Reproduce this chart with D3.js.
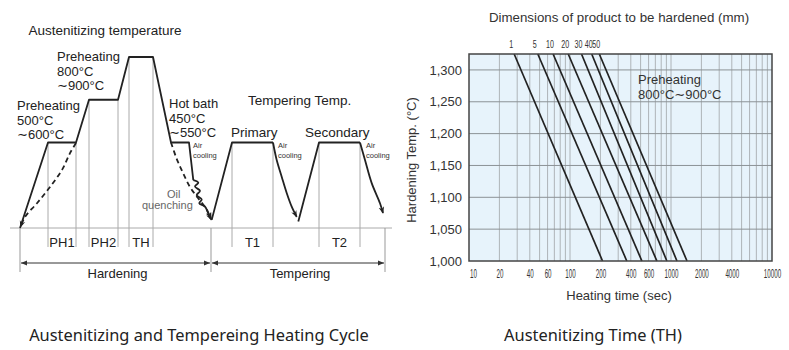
<!DOCTYPE html>
<html>
<head>
<meta charset="utf-8">
<script src="https://cdn.jsdelivr.net/npm/d3@7"></script>
<style>
  body { margin: 0; background: #fff; }
  svg { display: block; font-family: "Liberation Sans", Arial, Helvetica, sans-serif; }
  .wave { font-family: "DejaVu Sans", sans-serif; }
  .caption { font-family: "Noto Sans", sans-serif; }
</style>
</head>
<body>
<svg id="chart" width="789" height="350"></svg>
<script>
// ---------- Heating cycle schematic (left) ----------
// t: schematic time units, level: 0 = room temp, 2 = preheat 1 / hot bath / tempering,
// 3 = preheat 2, 4 = austenitizing
const hardeningPath = [[0, 0], [5.6, 2], [11.2, 2], [13.8, 3], [19.6, 3], [21.8, 4], [26.6, 4], [30.2, 2], [33.8, 2], [34.66, 1.12]];
const airCoolWiggle = [[34.66, 1.12], [35.66, 1.06], [35.0, 0.97], [36.0, 0.87], [35.34, 0.77], [36.34, 0.67], [35.86, 0.58], [37.0, 0.50], [37.66, 0.34], [38.3, 0.19]];
const oilQuench = [[30.2, 2], [31.4, 1.6], [32.6, 1.29], [34.0, 0.96], [35.6, 0.70], [37.4, 0.42], [38.1, 0.22]];
const directHeat = [[11.2, 1.99], [10.0, 1.75], [8.4, 1.36], [6.0, 0.96], [3.4, 0.58], [1.0, 0.26], [0.1, 0.02]];
const temperRise1 = [[38.34, 0.19], [42.4, 2], [50.6, 2]];
const temperCool1 = [[50.6, 2], [51.34, 1.59], [52.34, 1.2], [53.34, 0.82], [54.34, 0.5], [55.34, 0.26]];
const temperRise2 = [[55.66, 0.15], [59.8, 2], [68.0, 2]];
const temperCool2 = [[68.0, 2], [69.0, 1.59], [70.34, 1.05], [72.0, 0.58], [72.6, 0.35]];
const stageNames = ["PH1", "PH2", "TH", "T1", "T2"];
const stageStart = [5.6, 13.8, 21.8, 42.4, 59.8];
const stageEnd = [11.2, 19.6, 26.6, 50.6, 68.0];
const stageLevel = [2, 3, 4, 2, 2];
const phaseNames = ["Hardening", "Tempering"];
const phaseStart = [0, 38.2];
const phaseEnd = [38.2, 73];

// ---------- Austenitizing time chart (right) ----------
const dims = [1, 5, 10, 20, 30, 40, 50];                  // product size, mm
const timeAtTop = [28, 48, 68, 96, 130, 164, 195];        // sec at 1,325 °C
const timeAt1000 = [210, 365, 515, 725, 910, 1145, 1440]; // sec at 1,000 °C
const tempTop = 1325;
const tempTicks = [1000, 1050, 1100, 1150, 1200, 1250, 1300];
const timeTicks = [10, 20, 40, 60, 100, 200, 400, 600, 1000, 2000, 4000, 10000];

const svg = d3.select("#chart");
const defs = svg.append("defs");
defs.append("marker").attr("id", "arrow")
  .attr("viewBox", "0 0 10 10").attr("refX", 9).attr("refY", 5)
  .attr("markerWidth", 7).attr("markerHeight", 7).attr("markerUnits", "userSpaceOnUse")
  .attr("orient", "auto")
  .append("path").attr("d", "M0,1 L10,5 L0,9 L3,5 z").attr("fill", "#222");
defs.append("marker").attr("id", "dimArrow")
  .attr("viewBox", "0 0 10 10").attr("refX", 10).attr("refY", 5)
  .attr("markerWidth", 8).attr("markerHeight", 6).attr("markerUnits", "userSpaceOnUse")
  .attr("orient", "auto-start-reverse")
  .append("path").attr("d", "M0,1 L10,5 L0,9 z").attr("fill", "#333");

// ----- left schematic -----
const sx = d3.scaleLinear().domain([0, 73]).range([20, 385]);
const sy = d3.scaleLinear().domain([0, 4]).range([228, 57]);
const L = svg.append("g");
const lineLin = d3.line().x(d => sx(d[0])).y(d => sy(d[1]));
const lineCurve = d3.line().x(d => sx(d[0])).y(d => sy(d[1])).curve(d3.curveCatmullRom);
const guideBottom = 247, dimY = 263, dimBottom = 272;

// baseline
L.append("line").attr("x1", sx(-2)).attr("x2", sx(74.4)).attr("y1", sy(0)).attr("y2", sy(0))
  .attr("stroke", "#aaa").attr("stroke-width", 1);

// stage guide lines and labels
stageNames.forEach((name, i) => {
  [stageStart[i], stageEnd[i]].forEach(t => {
    L.append("line").attr("x1", sx(t)).attr("x2", sx(t))
      .attr("y1", sy(stageLevel[i])).attr("y2", guideBottom)
      .attr("stroke", "#aaa").attr("stroke-width", 1);
  });
  L.append("text").attr("x", (sx(stageStart[i]) + sx(stageEnd[i])) / 2).attr("y", 247)
    .attr("text-anchor", "middle").attr("font-size", 13).attr("fill", "#222").text(name);
});

// phase dimension lines
[0, 38.2, 73].forEach(t => {
  L.append("line").attr("x1", sx(t)).attr("x2", sx(t)).attr("y1", sy(0)).attr("y2", dimBottom)
    .attr("stroke", "#999").attr("stroke-width", 1);
});
phaseNames.forEach((name, i) => {
  L.append("line").attr("x1", sx(phaseStart[i]) + 1).attr("x2", sx(phaseEnd[i]) - 1)
    .attr("y1", dimY).attr("y2", dimY).attr("stroke", "#333").attr("stroke-width", 1)
    .attr("marker-start", "url(#dimArrow)").attr("marker-end", "url(#dimArrow)");
  L.append("text").attr("x", (sx(phaseStart[i]) + sx(phaseEnd[i])) / 2 + 2).attr("y", 278)
    .attr("text-anchor", "middle").attr("font-size", 13).attr("fill", "#222").text(name);
});

// temperature profile
const prof = { fill: "none", stroke: "#222", "stroke-width": 1.8, "stroke-linejoin": "round" };
function draw(d, gen, extra) {
  const p = L.append("path").attr("d", gen(d));
  Object.entries(Object.assign({}, prof, extra || {})).forEach(([k, v]) => p.attr(k, v));
  return p;
}
draw(hardeningPath, lineLin);
draw(airCoolWiggle, lineCurve, { "marker-end": "url(#arrow)" });
draw(oilQuench, lineCurve, { "stroke-dasharray": "5,3.5", "marker-end": "url(#arrow)" });
draw(directHeat, lineCurve, { "stroke-dasharray": "5,3.5", "marker-end": "url(#arrow)" });
draw(temperRise1, lineLin);
draw(temperCool1, lineCurve, { "marker-end": "url(#arrow)" });
draw(temperRise2, lineLin);
draw(temperCool2, lineCurve, { "marker-end": "url(#arrow)" });

// text helper: the range sign is set as a wide tilde
const WAVE = "∼";
function addLine(t, x, dy, s) {
  const ts = t.append("tspan").attr("x", x).attr("dy", dy);
  const parts = s.split(WAVE);
  parts.forEach((p, k) => {
    if (k > 0) ts.append("tspan").attr("class", "wave").text(WAVE);
    if (p) ts.append("tspan").text(p);
  });
}
function block(g, x, y, lines, size, fill, lh) {
  const t = g.append("text").attr("x", x).attr("y", y).attr("font-size", size).attr("fill", fill);
  lines.forEach((s, i) => addLine(t, x, i ? lh : 0, s));
}
L.append("text").attr("x", 105).attr("y", 35).attr("text-anchor", "middle")
  .attr("font-size", 13.5).attr("fill", "#222").text("Austenitizing temperature");
block(L, 57, 61, ["Preheating", "800°C", "∼900°C"], 13, "#222", 14.6);
block(L, 17, 110, ["Preheating", "500°C", "∼600°C"], 13, "#222", 14.6);
block(L, 169, 108, ["Hot bath", "450°C", "∼550°C"], 13, "#222", 14.6);
L.append("text").attr("x", 248).attr("y", 105).attr("font-size", 13.5).attr("fill", "#222").text("Tempering Temp.");
L.append("text").attr("x", 231).attr("y", 137).attr("font-size", 13.5).attr("fill", "#222").text("Primary");
L.append("text").attr("x", 305).attr("y", 137).attr("font-size", 13.5).attr("fill", "#222").text("Secondary");
block(L, 193, 148, ["Air", "cooling"], 7.5, "#333", 9.5);
block(L, 278, 148, ["Air", "cooling"], 7.5, "#333", 9.5);
block(L, 366, 148, ["Air", "cooling"], 7.5, "#333", 9.5);
block(L, 167, 198, ["Oil"], 11, "#666", 11);
block(L, 142, 209, ["quenching"], 11, "#666", 11);

// ----- right chart -----
const x = d3.scaleLog().domain([10, 10000]).range([469, 772]);
const y = d3.scaleLinear().domain([1000, tempTop]).range([261, 54]);
const R = svg.append("g");

R.append("rect").attr("x", x(10)).attr("y", y(tempTop))
  .attr("width", x(10000) - x(10)).attr("height", y(1000) - y(tempTop))
  .attr("fill", "#e7f3fb");

// log grid
const minor = [];
[10, 100, 1000].forEach(dec => { for (let k = 1; k <= 9; k++) minor.push(dec * k); });
R.append("g").selectAll("line").data(minor.filter(v => v > 10)).join("line")
  .attr("x1", d => x(d)).attr("x2", d => x(d)).attr("y1", y(tempTop)).attr("y2", y(1000))
  .attr("stroke", "#aeb4b8").attr("stroke-width", 1);
R.append("g").selectAll("line").data(tempTicks.filter(v => v > 1000)).join("line")
  .attr("x1", x(10)).attr("x2", x(10000)).attr("y1", d => y(d)).attr("y2", d => y(d))
  .attr("stroke", "#8c9296").attr("stroke-width", 1);

// heating-time lines per product size
R.append("g").selectAll("line").data(dims).join("line")
  .attr("x1", (d, i) => x(timeAtTop[i])).attr("y1", y(tempTop))
  .attr("x2", (d, i) => x(timeAt1000[i])).attr("y2", y(1000))
  .attr("stroke", "#222").attr("stroke-width", 1.7);

R.append("rect").attr("x", x(10)).attr("y", y(tempTop))
  .attr("width", x(10000) - x(10)).attr("height", y(1000) - y(tempTop))
  .attr("fill", "none").attr("stroke", "#444").attr("stroke-width", 1.5);

// axes
const yAxis = R.append("g").attr("transform", `translate(${x(10)},0)`)
  .call(d3.axisLeft(y).tickValues(tempTicks).tickFormat(d3.format(",")).tickSize(0).tickPadding(7));
yAxis.select(".domain").remove();
yAxis.attr("font-family", null);
yAxis.selectAll("text").attr("font-size", 13).attr("fill", "#333");

const xAxis = R.append("g").attr("transform", `translate(0,${y(1000)})`)
  .call(d3.axisBottom(x).tickValues(timeTicks).tickFormat(d3.format("d")).tickSize(0).tickPadding(0));
xAxis.select(".domain").remove();
xAxis.attr("font-family", null);
xAxis.selectAll(".tick text").attr("font-size", 12).attr("fill", "#333")
  .attr("y", 0).attr("dy", 0)
  .attr("transform", (d, i) => `translate(${i === 0 ? 4 : 0},17) scale(0.52,1)`);

// size labels along the top
R.append("g").selectAll("text").data(dims).join("text")
  .attr("transform", (d, i) => `translate(${x(timeAtTop[i]) - 3},${y(tempTop) - 6}) scale(0.62,1)`)
  .attr("text-anchor", "middle").attr("font-size", 11.5).attr("fill", "#333").text(d => d);

R.append("text").attr("x", 619).attr("y", 22).attr("text-anchor", "middle")
  .attr("font-size", 13.3).attr("fill", "#333").text("Dimensions of product to be hardened (mm)");
R.append("text").attr("x", 619).attr("y", 300).attr("text-anchor", "middle")
  .attr("font-size", 13).attr("fill", "#333").text("Heating time (sec)");
R.append("text").attr("transform", "translate(416,160) rotate(-90)").attr("text-anchor", "middle")
  .attr("font-size", 13).attr("fill", "#333").text("Hardening Temp. (°C)");
block(R, 638, 84, ["Preheating", "800°C∼900°C"], 13, "#333", 14.6);

// captions
svg.append("text").attr("class", "caption").attr("x", 199).attr("y", 341).attr("text-anchor", "middle")
  .attr("font-size", 16.4).attr("fill", "#222")
  .text("Austenitizing and Tempereing Heating Cycle");
svg.append("text").attr("class", "caption").attr("x", 593).attr("y", 341).attr("text-anchor", "middle")
  .attr("font-size", 16.4).attr("fill", "#222")
  .text("Austenitizing Time (TH)");
</script>
</body>
</html>
